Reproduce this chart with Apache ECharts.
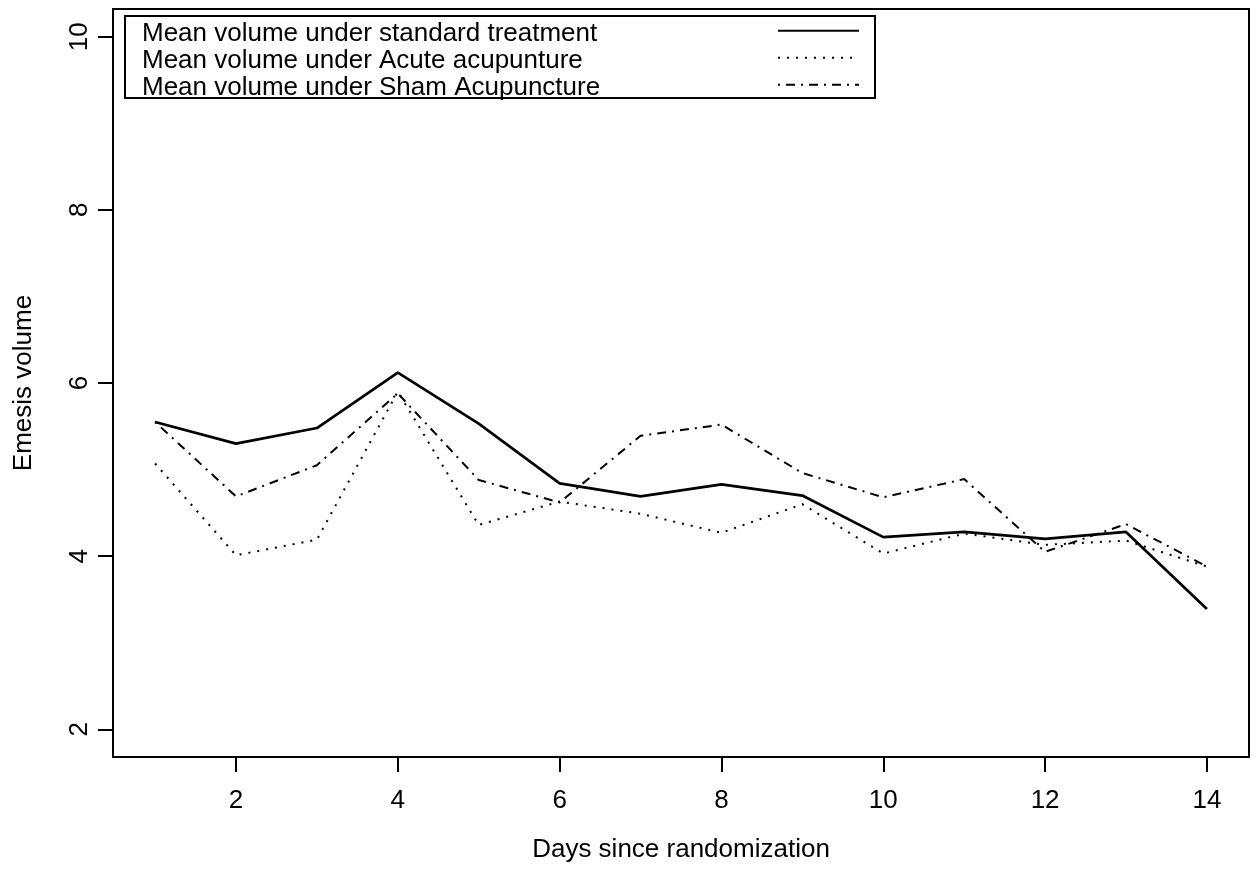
<!DOCTYPE html>
<html>
<head>
<meta charset="utf-8">
<script src="https://cdn.jsdelivr.net/npm/echarts@6/dist/echarts.min.js"></script>
<style>
    html, body { margin: 0; padding: 0; background: #fff; }
    #main { width: 1256px; height: 875px; }
</style>
</head>
<body>
<div id="main"></div>
<script>
let days = [1, 2, 3, 4, 5, 6, 7, 8, 9, 10, 11, 12, 13, 14];
let standardVals = [5.55, 5.30, 5.48, 6.12, 5.53, 4.84, 4.69, 4.83, 4.70, 4.22, 4.28, 4.20, 4.28, 3.39];
let acuteVals = [5.07, 4.01, 4.19, 5.90, 4.36, 4.63, 4.49, 4.27, 4.60, 4.03, 4.26, 4.13, 4.18, 3.88];
let shamVals = [5.55, 4.69, 5.05, 5.88, 4.88, 4.62, 5.39, 5.52, 4.96, 4.68, 4.89, 4.05, 4.37, 3.88];
let xTicks = [2, 4, 6, 8, 10, 12, 14];
let yTicks = [2, 4, 6, 8, 10];
let names = ["Mean volume under standard treatment", "Mean volume under Acute acupunture", "Mean volume under Sham Acupuncture"];

function pairs(vals) {
    let out = [];
    for (let i = 0; i < days.length; i = i + 1) {
        out.push([days[i], vals[i]]);
    }
    return out;
}

let font = "'Liberation Sans', Arial, sans-serif";
let fs = 26;
let myChart = echarts.init(document.getElementById("main"), null, { renderer: "canvas" });

let option = {
    animation: false,
    backgroundColor: "#fff",
    textStyle: { fontFamily: font, color: "#000" },
    grid: {
        left: 113, top: 9, width: 1136, height: 748,
        show: true, borderColor: "#000", borderWidth: 2, backgroundColor: "transparent"
    },
    xAxis: {
        type: "value",
        min: 0.48,
        max: 14.52,
        name: "Days since randomization",
        nameLocation: "middle",
        nameGap: 80,
        nameTextStyle: { fontSize: fs, color: "#000", fontFamily: font },
        axisLine: { show: false },
        splitLine: { show: false },
        axisTick: { show: true, customValues: xTicks, length: 15, lineStyle: { color: "#000", width: 2 } },
        axisLabel: { customValues: xTicks, fontSize: fs, color: "#000", margin: 31, fontFamily: font }
    },
    yAxis: {
        type: "value",
        min: 1.68,
        max: 10.32,
        name: "Emesis volume",
        nameLocation: "middle",
        nameGap: 76,
        nameRotate: 90,
        nameTextStyle: { fontSize: fs, color: "#000", fontFamily: font },
        axisLine: { show: false },
        splitLine: { show: false },
        axisTick: { show: true, customValues: yTicks, length: 15, lineStyle: { color: "#000", width: 2 } },
        axisLabel: { customValues: yTicks, rotate: 90, fontSize: fs, color: "#000", margin: 20, fontFamily: font }
    },
    legend: [
        {
            // text only
            orient: "vertical",
            left: 137,
            top: 20,
            padding: 0,
            itemGap: 0,
            itemWidth: 0,
            itemHeight: 1,
            icon: "rect",
            itemStyle: { opacity: 0 },
            selectedMode: false,
            data: names,
            textStyle: { fontSize: fs, lineHeight: 27, color: "#000", fontFamily: font }
        },
        {
            // line samples only
            orient: "vertical",
            left: 777,
            top: 20,
            padding: 0,
            itemGap: 5.4,
            itemWidth: 81,
            itemHeight: 27,
            itemStyle: { opacity: 0 },
            selectedMode: false,
            data: names,
            formatter: function () { return ""; },
            textStyle: { fontSize: fs, lineHeight: 27 }
        }
    ],
    graphic: [
        {
            type: "rect",
            shape: { x: 125, y: 16, width: 750, height: 82 },
            style: { fill: "none", stroke: "#000", lineWidth: 2 },
            z: 100
        }
    ],
    series: [
        {
            name: names[0],
            type: "line",
            data: pairs(standardVals),
            symbol: "none",
            lineStyle: { color: "#000", width: 2.7, type: "solid" },
            itemStyle: { color: "#000" }
        },
        {
            name: names[1],
            type: "line",
            data: pairs(acuteVals),
            symbol: "none",
            lineStyle: { color: "#000", width: 2, type: [2, 7] },
            itemStyle: { color: "#000" }
        },
        {
            name: names[2],
            type: "line",
            data: pairs(shamVals),
            symbol: "none",
            lineStyle: { color: "#000", width: 2, type: [2, 6, 9, 6] },
            itemStyle: { color: "#000" }
        }
    ]
};

myChart.setOption(option);
</script>
</body>
</html>
